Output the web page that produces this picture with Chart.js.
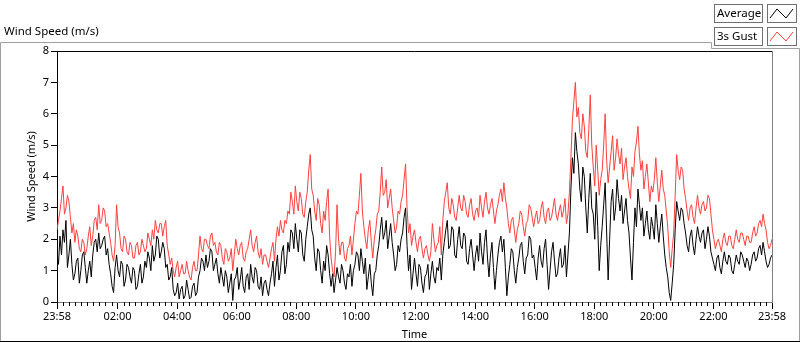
<!DOCTYPE html>
<html>
<head>
<meta charset="utf-8">
<script src="https://cdn.jsdelivr.net/npm/chart.js@4.4.1/dist/chart.umd.min.js"></script>
<style>
  html, body { margin: 0; padding: 0; background: #fff; }
  canvas { display: block; }
</style>
</head>
<body>
<canvas id="windChart" width="800" height="342"></canvas>
<script>
// one sample every 3 minutes, starting at 23:58
let sampleStep = 3;

let avgSpeed = [
    1.6, 1.2, 2.1, 1.5, 2.3, 1.9, 2.6, 1.1, 1.5, 2.0, 1.2, 0.7, 0.9, 1.3, 1.4, 0.6, 1.0, 1.5, 1.6, 1.1,
    0.6, 1.0, 1.3, 0.8, 1.5, 1.9, 2.0, 1.6, 2.2, 1.7, 1.8, 2.0, 2.1, 1.5, 1.7, 1.2, 0.9, 0.5, 0.3, 1.1,
    1.5, 1.0, 0.8, 1.3, 1.2, 0.5, 0.7, 1.2, 1.1, 0.8, 0.6, 1.1, 1.0, 0.4, 0.5, 0.9, 1.2, 0.6, 0.8, 1.3,
    1.1, 1.6, 1.4, 1.0, 1.8, 1.3, 1.5, 2.1, 2.0, 1.4, 1.6, 1.9, 1.7, 1.1, 1.2, 0.7, 0.8, 1.1, 0.4, 0.2,
    0.3, 0.6, 0.1, 0.4, 0.5, 0.1, 0.2, 0.7, 0.4, 0.1, 0.15, 0.5, 0.6, 0.2, 0.3, 0.8, 1.0, 1.4, 1.3, 1.0,
    1.5, 1.1, 1.3, 1.7, 1.6, 1.0, 1.2, 1.4, 0.9, 0.6, 1.1, 0.8, 0.5, 1.0, 0.8, 0.3, 0.6, 0.9, 0.05, 0.7,
    0.8, 1.1, 0.4, 0.7, 1.1, 0.5, 0.3, 0.8, 0.9, 0.4, 1.2, 0.8, 0.6, 1.1, 1.0, 0.5, 0.4, 0.8, 0.2, 0.6,
    0.7, 0.4, 0.2, 0.6, 0.9, 1.3, 0.5, 1.1, 1.5, 0.7, 1.0, 1.6, 1.8, 0.9, 1.2, 1.9, 1.6, 2.3, 2.2, 1.7,
    2.5, 2.0, 1.6, 2.3, 2.2, 1.5, 1.3, 2.0, 2.4, 2.8, 3.0, 2.3, 2.1, 1.4, 1.0, 1.7, 1.6, 1.0, 0.6, 1.3,
    1.0, 1.8, 1.5, 0.9, 0.5, 0.9, 0.3, 0.7, 1.1, 0.8, 0.6, 1.2, 1.0, 0.6, 0.4, 0.9, 0.8, 1.2, 0.5, 1.0,
    1.2, 1.6, 1.5, 1.0, 1.7, 1.3, 0.9, 1.4, 0.4, 0.8, 1.2, 0.6, 0.2, 0.9, 1.0, 1.5, 1.8, 2.3, 2.7, 2.0,
    2.2, 2.6, 1.7, 2.1, 2.5, 1.9, 1.5, 1.0, 1.2, 1.8, 1.6, 2.0, 2.2, 2.7, 3.0, 1.8, 1.0, 1.5, 0.4, 0.9,
    1.4, 0.9, 0.5, 1.2, 1.1, 0.6, 0.3, 0.8, 0.9, 1.2, 0.4, 0.9, 1.3, 0.8, 0.6, 1.1, 1.0, 1.4, 0.7, 1.5,
    1.9, 2.3, 2.6, 1.7, 1.8, 2.4, 2.3, 1.5, 1.4, 2.0, 2.4, 1.8, 1.7, 2.2, 2.1, 1.3, 1.2, 1.7, 2.0, 1.5,
    1.0, 1.5, 1.8, 1.3, 2.2, 1.6, 1.2, 1.9, 2.3, 1.4, 0.8, 1.5, 1.9, 1.1, 0.4, 1.0, 1.5, 1.9, 2.1, 1.6,
    2.0, 1.1, 0.2, 0.8, 1.2, 1.7, 1.6, 1.0, 0.6, 1.1, 1.4, 1.8, 1.9, 1.3, 0.9, 1.4, 1.5, 2.1, 2.0, 1.4,
    1.5, 1.1, 0.7, 1.4, 1.8, 1.3, 1.1, 1.7, 2.0, 1.2, 0.4, 1.0, 1.6, 1.9, 1.3, 0.8, 0.9, 1.4, 1.7, 1.1,
    1.2, 1.8, 0.8, 1.5, 2.2, 3.6, 4.6, 4.1, 5.4, 4.8, 4.4, 3.6, 3.2, 4.3, 4.0, 3.0, 2.2, 3.3, 4.1, 3.0,
    2.8, 2.0, 3.5, 2.4, 1.0, 1.8, 2.4, 3.1, 3.8, 2.2, 0.7, 2.0, 3.2, 3.6, 2.6, 3.0, 3.9, 3.3, 2.9, 3.4,
    2.5, 2.9, 3.3, 2.6, 2.2, 1.4, 0.7, 1.9, 3.0, 2.4, 3.6, 3.1, 2.6, 3.0, 2.1, 2.5, 2.9, 2.3, 2.0, 2.7,
    2.4, 2.0, 3.1, 2.5, 1.9, 2.4, 2.8, 2.1, 1.5, 1.1, 0.8, 0.3, 0.05, 0.6, 1.2, 2.3, 3.2, 2.9, 2.6, 3.0,
    2.9, 2.5, 2.2, 1.8, 1.6, 2.1, 2.3, 1.8, 1.5, 2.0, 2.4, 2.1, 1.9, 2.2, 2.3, 1.7, 2.0, 2.4, 2.1, 1.6,
    1.4, 1.2, 1.0, 1.4, 1.5, 1.1, 0.9, 1.3, 1.6, 1.3, 1.2, 1.5, 1.4, 1.0, 0.9, 1.2, 1.5, 1.3, 1.2, 1.6,
    1.5, 1.3, 1.1, 1.4, 1.3, 1.0, 1.2, 1.5, 1.6, 1.3, 1.4, 1.7, 1.8, 1.5, 1.9, 1.6, 1.3, 1.1, 1.2, 1.4, 1.5
];

let gustSpeed = [
    2.3, 2.6, 2.9, 3.3, 3.7, 2.8, 3.0, 3.4, 3.2, 2.7, 2.2, 2.5, 1.9, 2.3, 2.1, 1.7, 1.6, 2.0, 1.9, 1.5,
    1.7, 2.1, 2.4, 1.8, 2.1, 2.6, 2.7, 2.3, 3.1, 2.5, 2.6, 3.0, 2.9, 2.4, 2.5, 2.2, 1.9, 1.5, 1.3, 1.8,
    3.1, 2.4, 2.2, 1.7, 1.6, 2.1, 2.0, 1.6, 1.5, 1.9, 1.8, 1.4, 1.4, 1.8, 1.9, 1.5, 1.6, 2.0, 1.8, 1.6,
    1.7, 2.2, 2.0, 1.8, 2.3, 2.0, 2.6, 2.3, 2.2, 2.5, 2.5, 2.1, 2.4, 2.6, 1.8, 1.5, 1.2, 1.4, 1.0, 0.8,
    1.1, 1.3, 0.8, 1.0, 1.2, 0.9, 0.9, 1.3, 1.0, 0.8, 0.7, 1.1, 1.3, 1.0, 1.0, 1.5, 2.1, 1.7, 1.6, 2.0,
    2.0, 1.8, 1.7, 2.1, 2.2, 1.8, 1.9, 1.6, 1.5, 1.9, 1.8, 1.4, 1.2, 1.7, 1.6, 1.3, 1.4, 1.7, 1.0, 1.5,
    2.0, 1.7, 1.5, 1.8, 1.9, 1.4, 1.3, 1.6, 1.7, 2.0, 2.3, 1.8, 1.6, 1.9, 2.1, 1.6, 1.4, 1.7, 1.2, 1.5,
    1.5, 1.3, 1.1, 1.4, 1.7, 1.9, 1.3, 2.0, 2.4, 2.1, 2.6, 2.3, 2.2, 2.6, 2.5, 2.9, 2.8, 3.5, 3.2, 2.8,
    3.7, 3.2, 2.9, 3.5, 3.3, 2.8, 2.7, 3.2, 3.5, 4.2, 4.7, 3.6, 3.4, 2.9, 2.6, 3.3, 3.1, 2.5, 2.2, 2.9,
    2.6, 3.2, 3.6, 2.1, 1.4, 1.0, 0.8, 1.6, 3.1, 2.0, 1.5, 1.9, 1.9, 1.4, 1.3, 1.7, 1.8, 2.1, 1.5, 2.0,
    2.5, 2.9, 2.8, 3.4, 4.1, 2.9, 2.4, 2.0, 1.7, 2.3, 2.6, 1.9, 1.4, 2.0, 2.3, 2.8, 2.9, 3.5, 4.3, 3.4,
    3.5, 3.9, 3.0, 3.3, 3.6, 3.0, 2.6, 2.2, 2.4, 2.9, 2.8, 3.2, 3.4, 3.9, 4.4, 3.0, 2.2, 2.5, 1.8, 2.1,
    2.3, 1.9, 1.6, 2.0, 2.1, 1.7, 1.4, 1.7, 1.8, 1.5, 1.3, 1.6, 2.5, 2.0, 1.6, 1.8, 1.9, 2.4, 1.5, 2.6,
    3.2, 3.5, 3.8, 3.0, 2.8, 3.3, 3.1, 2.7, 2.6, 3.0, 3.4, 3.0, 2.9, 3.4, 3.2, 2.8, 2.7, 3.1, 3.3, 2.8,
    2.6, 2.9, 3.0, 2.7, 3.4, 3.0, 2.7, 3.2, 3.5, 3.0, 2.8, 3.1, 3.3, 2.9, 2.5, 2.9, 3.1, 3.4, 3.6, 3.2,
    3.8, 3.3, 3.0, 2.5, 2.2, 2.6, 2.7, 2.3, 1.9, 2.3, 2.5, 2.9, 2.8, 2.4, 2.1, 2.5, 2.6, 3.1, 3.0, 2.7,
    2.4, 2.7, 2.9, 2.5, 2.6, 3.0, 3.2, 2.7, 2.5, 2.9, 3.0, 2.6, 2.7, 3.0, 3.3, 2.8, 2.6, 2.9, 3.1, 2.7,
    2.9, 3.3, 2.5, 2.8, 3.5, 4.6, 5.8, 6.4, 7.0, 5.9, 6.2, 5.4, 5.2, 6.0, 5.6, 4.8, 4.6, 5.5, 6.6, 5.0,
    4.3, 3.7, 5.0, 4.2, 3.4, 3.9, 4.2, 5.0, 6.0, 4.5, 3.8, 4.3, 4.8, 5.3, 4.2, 4.6, 5.2, 4.7, 4.4, 4.9,
    3.9, 4.3, 4.6, 4.0, 3.6, 3.3, 4.3, 4.0, 4.8, 5.1, 5.6, 4.7, 4.2, 4.5, 3.6, 4.0, 4.4, 3.8, 3.2, 3.7,
    3.5, 3.9, 4.6, 3.8, 3.2, 3.7, 4.2, 3.6, 3.4, 2.9, 2.4, 1.6, 1.1, 1.7, 2.2, 3.4, 4.7, 4.2, 3.9, 4.3,
    4.2, 3.6, 3.3, 2.9, 2.6, 3.0, 3.1, 2.7, 2.5, 3.0, 3.4, 3.0, 2.8, 3.1, 3.2, 2.9, 3.0, 3.4, 3.3, 2.8,
    2.3, 2.0, 1.7, 1.9, 2.0, 1.8, 1.6, 2.0, 2.2, 1.9, 1.8, 2.1, 2.1, 1.8, 1.7, 2.0, 2.3, 2.0, 1.9, 2.2,
    2.2, 2.0, 1.8, 2.1, 2.1, 1.9, 1.9, 2.2, 2.4, 2.1, 2.2, 2.5, 2.6, 2.4, 2.8, 2.5, 2.3, 1.9, 1.7, 1.8, 2.0
];

// minutes after 23:58 for the labelled ticks
let tickMinutes = [0, 122, 242, 362, 482, 602, 722, 842, 962, 1082, 1202, 1322, 1440];
let timeLabels = ['23:58', '02:00', '04:00', '06:00', '08:00', '10:00', '12:00',
                  '14:00', '16:00', '18:00', '20:00', '22:00', '23:58'];

let seriesNames = ['Average', '3s Gust'];
let seriesColors = ['#000000', '#ff4040'];

const FONT = 'Noto Sans';
Chart.defaults.font.family = FONT;
Chart.defaults.font.size = 11;
Chart.defaults.color = '#000';

const toPoints = arr => arr.map((v, i) => ({ x: i * sampleStep, y: v }));

// frame, caption, legend boxes, minor ticks
const panelDecor = {
    id: 'panelDecor',
    beforeDraw(chart) {
        const ctx = chart.ctx;
        ctx.save();
        ctx.fillStyle = '#fff';
        ctx.fillRect(0, 0, chart.width, chart.height);
        ctx.restore();
    },
    afterDraw(chart) {
        const ctx = chart.ctx;
        const a = chart.chartArea;
        ctx.save();
        ctx.lineWidth = 1;

        // outer panel
        ctx.strokeStyle = '#a0a0a0';
        ctx.beginPath();
        ctx.moveTo(0.5, 341);
        ctx.lineTo(0.5, 42.5);
        ctx.lineTo(711.5, 42.5);
        ctx.lineTo(711.5, 48.5);
        ctx.lineTo(799.5, 48.5);
        ctx.lineTo(799.5, 341);
        ctx.stroke();
        ctx.strokeStyle = '#000';
        ctx.beginPath();
        ctx.moveTo(0, 341.5);
        ctx.lineTo(800, 341.5);
        ctx.stroke();

        // plot box top / right
        ctx.strokeStyle = '#000';
        ctx.beginPath();
        ctx.moveTo(a.left, a.top + 0.5);
        ctx.lineTo(a.right, a.top + 0.5);
        ctx.stroke();
        ctx.strokeStyle = '#808080';
        ctx.beginPath();
        ctx.moveTo(a.right + 0.5, a.top);
        ctx.lineTo(a.right + 0.5, a.bottom);
        ctx.stroke();

        // minor x ticks
        const xs = chart.scales.x;
        ctx.strokeStyle = '#000';
        ctx.beginPath();
        for (let k = 0; k < tickMinutes.length - 1; k++) {
            const m0 = tickMinutes[k], m1 = tickMinutes[k + 1];
            for (let j = 1; j < 10; j++) {
                const px = Math.round(xs.getPixelForValue(m0 + (m1 - m0) * j / 10)) + 0.5;
                ctx.moveTo(px, a.bottom);
                ctx.lineTo(px, a.bottom + 4);
            }
        }
        ctx.stroke();

        // caption
        ctx.fillStyle = '#000';
        ctx.font = '11.5px ' + FONT;
        ctx.textBaseline = 'middle';
        ctx.textAlign = 'left';
        ctx.fillText('Wind Speed (m/s)', 4, 32);

        // legend
        seriesNames.forEach((name, i) => {
            const y = 4 + i * 23;
            ctx.fillStyle = '#fff';
            ctx.fillRect(714, y, 48, 18);
            ctx.fillRect(767, y, 29, 18);
            ctx.strokeStyle = '#707070';
            ctx.strokeRect(714.5, y + 0.5, 48, 18);
            ctx.strokeRect(767.5, y + 0.5, 29, 18);
            ctx.fillStyle = '#000';
            ctx.font = '11.5px ' + FONT;
            ctx.fillText(name, 717, y + 10);
            ctx.strokeStyle = seriesColors[i];
            ctx.beginPath();
            ctx.moveTo(770, y + 14);
            ctx.lineTo(777, y + 5);
            ctx.lineTo(786, y + 14);
            ctx.lineTo(793, y + 5);
            ctx.stroke();
        });
        ctx.restore();
    }
};

const config = {
    type: 'line',
    data: {
        datasets: [
            {
                label: seriesNames[0],
                data: toPoints(avgSpeed),
                borderColor: seriesColors[0],
                borderWidth: 1,
                pointRadius: 0,
                tension: 0
            },
            {
                label: seriesNames[1],
                data: toPoints(gustSpeed),
                borderColor: seriesColors[1],
                borderWidth: 1,
                pointRadius: 0,
                tension: 0
            }
        ]
    },
    options: {
        responsive: false,
        animation: false,
        devicePixelRatio: 1,
        layout: {
            padding: { left: 24, top: 51, right: 28, bottom: 0 }
        },
        plugins: {
            legend: { display: false },
            tooltip: { enabled: false }
        },
        scales: {
            x: {
                type: 'linear',
                min: 0,
                max: 1440,
                afterBuildTicks: s => { s.ticks = tickMinutes.map(v => ({ value: v })); },
                afterFit: s => { s.height = 40; },
                ticks: {
                    autoSkip: false,
                    maxRotation: 0,
                    padding: 1,
                    callback: (v, i) => timeLabels[i]
                },
                grid: {
                    drawOnChartArea: false,
                    tickLength: 7,
                    tickColor: '#000'
                },
                border: { color: '#808080' },
                title: {
                    display: true,
                    text: 'Time',
                    padding: { top: 0, bottom: 1 }
                }
            },
            y: {
                min: 0,
                max: 8,
                afterFit: s => { s.width = 33; },
                ticks: {
                    stepSize: 1,
                    padding: 2
                },
                grid: {
                    drawOnChartArea: false,
                    tickLength: 6,
                    tickColor: '#000'
                },
                border: { color: '#000' },
                title: {
                    display: true,
                    text: 'Wind Speed (m/s)',
                    padding: { top: 1, bottom: 0 }
                }
            }
        }
    },
    plugins: [panelDecor]
};

const windChart = new Chart(document.getElementById('windChart'), config);
</script>
</body>
</html>
